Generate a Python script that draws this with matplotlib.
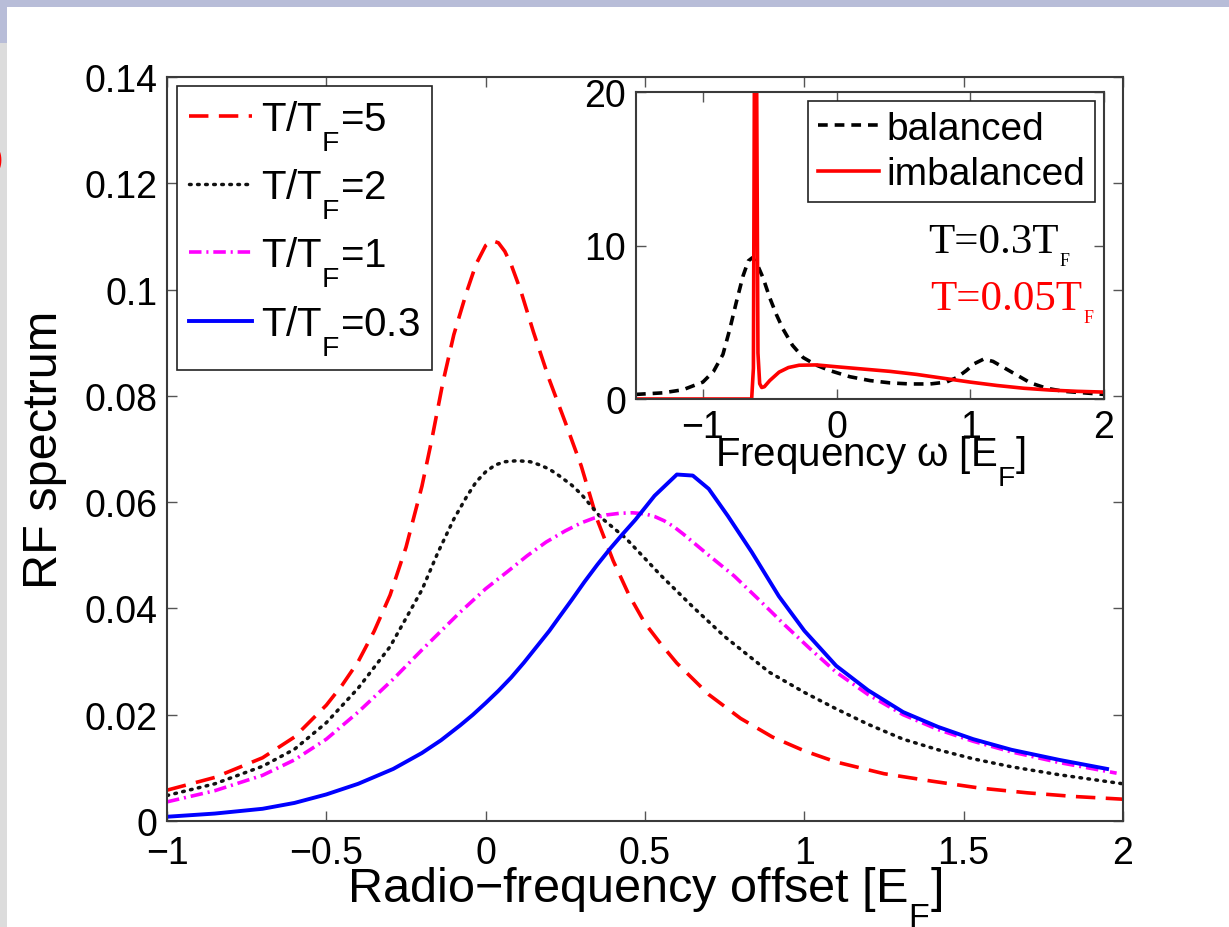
import matplotlib
matplotlib.use('Agg')
import matplotlib.pyplot as plt
import matplotlib._mathtext as mathtext_internals
from matplotlib.patches import Rectangle

# RF spectra for four temperatures (x in E_F)
x_t5 = [-1.0, -0.85, -0.7, -0.6, -0.5, -0.45, -0.4, -0.35, -0.3, -0.25, -0.2, -0.17, -0.134, -0.1,
        -0.06, -0.03, 0.0, 0.02, 0.04, 0.06, 0.08, 0.11, 0.15, 0.2, 0.25, 0.3, 0.35, 0.4, 0.45, 0.5,
        0.55, 0.6, 0.7, 0.8, 0.9, 1.0, 1.1, 1.25, 1.4, 1.55, 1.7, 1.85, 2.0]
y_t5 = [0.0058, 0.0082, 0.0119, 0.0158, 0.0218, 0.0256, 0.0300, 0.0357, 0.0425, 0.0515, 0.0630,
        0.0715, 0.0826, 0.0915, 0.0995, 0.1048, 0.1083, 0.1092, 0.1088, 0.1072, 0.1047, 0.0998,
        0.0920, 0.0830, 0.0750, 0.0668, 0.0567, 0.0490, 0.0425, 0.0372, 0.0333, 0.0297, 0.0238,
        0.0193, 0.0158, 0.0132, 0.0111, 0.0089, 0.0075, 0.0062, 0.0053, 0.0046, 0.0041]

x_t2 = [-1.0, -0.85, -0.7, -0.6, -0.5, -0.4, -0.3, -0.2, -0.15, -0.1, -0.06, -0.03, 0.0, 0.03, 0.06,
        0.1, 0.14, 0.17, 0.2, 0.23, 0.27, 0.3, 0.36, 0.44, 0.55, 0.65, 0.75, 0.89, 1.0, 1.1, 1.2,
        1.31, 1.42, 1.53, 1.65, 1.8, 2.0]
y_t2 = [0.0048, 0.0070, 0.0103, 0.0135, 0.0185, 0.0250, 0.0328, 0.0435, 0.0505, 0.0568, 0.0610,
        0.0638, 0.0657, 0.0670, 0.0676, 0.0678, 0.0676, 0.0670, 0.0662, 0.0650, 0.0632, 0.0615,
        0.0572, 0.0532, 0.0462, 0.0403, 0.0347, 0.0280, 0.0242, 0.0211, 0.0182, 0.0154, 0.0134,
        0.0117, 0.0102, 0.0087, 0.0070]

x_t1 = [-1.0, -0.85, -0.7, -0.6, -0.5, -0.4, -0.29, -0.2, -0.08, 0.0, 0.07, 0.13, 0.19, 0.25, 0.3,
        0.34, 0.38, 0.42, 0.46, 0.5, 0.53, 0.56, 0.59, 0.62, 0.66, 0.7, 0.78, 0.86, 0.94, 1.02, 1.1,
        1.2, 1.31, 1.42, 1.53, 1.65, 1.8, 1.98]
y_t1 = [0.0036, 0.0057, 0.0086, 0.0115, 0.0154, 0.0205, 0.0267, 0.0322, 0.0393, 0.0437, 0.0470,
        0.0499, 0.0525, 0.0546, 0.0561, 0.0570, 0.0576, 0.0579, 0.0580, 0.0578, 0.0573, 0.0565,
        0.0554, 0.0540, 0.0520, 0.0500, 0.0461, 0.0415, 0.0368, 0.0323, 0.0280, 0.0238, 0.0200,
        0.0172, 0.0150, 0.0130, 0.0110, 0.0090]

x_t03 = [-1.0, -0.85, -0.7, -0.6, -0.5, -0.4, -0.29, -0.2, -0.14, -0.08, -0.04, 0.0, 0.04, 0.08,
         0.12, 0.16, 0.2, 0.23, 0.27, 0.31, 0.35, 0.39, 0.43, 0.47, 0.53, 0.6, 0.65, 0.7, 0.76,
         0.835, 0.92, 1.0, 1.1, 1.2, 1.31, 1.42, 1.53, 1.65, 1.8, 1.95]
y_t03 = [0.0008, 0.0014, 0.0023, 0.0034, 0.0050, 0.0070, 0.0098, 0.0128, 0.0152, 0.0180, 0.0200,
         0.0222, 0.0245, 0.0270, 0.0298, 0.0328, 0.0358, 0.0383, 0.0416, 0.0450, 0.0482, 0.0512,
         0.0540, 0.0567, 0.0612, 0.0652, 0.0650, 0.0625, 0.0574, 0.0506, 0.0423, 0.0358, 0.0292,
         0.0246, 0.0205, 0.0177, 0.0154, 0.0134, 0.0115, 0.0098]

# inset: balanced vs imbalanced spectra
x_bal = [-1.5, -1.3, -1.15, -1.0, -0.92, -0.85, -0.8, -0.75, -0.7, -0.66, -0.63, -0.6, -0.55, -0.5,
         -0.45, -0.4, -0.33, -0.25, -0.15, -0.05, 0.1, 0.25, 0.4, 0.55, 0.7, 0.82, 0.9, 0.97, 1.03,
         1.1, 1.17, 1.25, 1.35, 1.45, 1.57, 1.7, 1.85, 2.0]
y_bal = [0.3, 0.4, 0.6, 1.1, 1.8, 2.9, 4.5, 6.3, 8.0, 9.0, 9.2, 8.9, 7.9, 6.6, 5.5, 4.55, 3.5, 2.7,
         2.2, 1.85, 1.45, 1.2, 1.05, 0.98, 0.98, 1.1, 1.4, 1.85, 2.3, 2.6, 2.45, 2.05, 1.55, 1.05,
         0.7, 0.5, 0.4, 0.3]

x_imb = [-1.5, -0.635, -0.622, -0.613, -0.6, -0.588, -0.575, -0.56, -0.54, -0.5, -0.43, -0.36, -0.28,
         -0.15, 0.0, 0.2, 0.4, 0.6, 0.8, 1.0, 1.2, 1.4, 1.6, 1.8, 2.0]
y_imb = [0.0, 0.0, 2.0, 25.0, 25.0, 3.0, 1.0, 0.75, 0.8, 1.2, 1.75, 2.05, 2.2, 2.22, 2.1, 1.95, 1.8,
         1.6, 1.35, 1.1, 0.88, 0.7, 0.58, 0.5, 0.45]

main_xticks = [-1, -0.5, 0, 0.5, 1, 1.5, 2]
main_xticklabels = ['\u22121', '\u22120.5', '0', '0.5', '1', '1.5', '2']
main_yticks = [0, 0.02, 0.04, 0.06, 0.08, 0.1, 0.12, 0.14]
main_yticklabels = ['0', '0.02', '0.04', '0.06', '0.08', '0.1', '0.12', '0.14']
inset_xticks = [-1, 0, 1, 2]
inset_xticklabels = ['\u22121', '0', '1', '2']
inset_yticks = [0, 10, 20]

plt.rcParams['font.family'] = 'Liberation Sans'
plt.rcParams['mathtext.fontset'] = 'custom'
plt.rcParams['mathtext.rm'] = 'Liberation Sans'
plt.rcParams['lines.scale_dashes'] = False
# drop subscripts lower, the way MATLAB places them
mathtext_internals.FontConstantsBase.sub1 = 0.95

fig = plt.figure(figsize=(12.29, 9.28), dpi=100)
fig.patch.set_facecolor('white')

# slide frame around the figure
W, H = 1229.0, 928.0
fig.patches.append(Rectangle((0, 1 - 8 / H), 1, 8 / H, transform=fig.transFigure,
                             facecolor='#b8bdd8', edgecolor='none', zorder=-5))
fig.patches.append(Rectangle((0, 0), 7 / W, 1 - 44 / H, transform=fig.transFigure,
                             facecolor='#dcdcdc', edgecolor='none', zorder=-5))
fig.patches.append(Rectangle((0, 1 - 44 / H), 7 / W, 44 / H, transform=fig.transFigure,
                             facecolor='#b8bdd8', edgecolor='none', zorder=-5))
fig.text(3 / W, 1 - 160 / H, ')', color='red', fontsize=22, ha='right', va='center')

spine_col = '#3a3a3a'


def style_axes(ax, size):
    for s in ax.spines.values():
        s.set_color(spine_col)
        s.set_linewidth(1.5)
    ax.tick_params(direction='in', length=7, width=1, color='#555555', top=True, right=True,
                   labelsize=size, pad=7)


ax = fig.add_axes([167 / W, 1 - 822 / H, 956 / W, 744 / H])
ax.plot(x_t5, y_t5, color='red', lw=2.6, dashes=(14, 7.5), label=r'T/T$_\mathregular{F}$=5')
ax.plot(x_t2, y_t2, color='#111111', lw=2.5, dashes=(1.2, 4.6), dash_capstyle='round',
        label=r'T/T$_\mathregular{F}$=2')
ax.plot(x_t1, y_t1, color='magenta', lw=2.6, dashes=(9, 3.5, 1.5, 3.5), label=r'T/T$_\mathregular{F}$=1')
ax.plot(x_t03, y_t03, color='blue', lw=2.8, label=r'T/T$_\mathregular{F}$=0.3')
ax.set_xlim(-1, 2)
ax.set_ylim(0, 0.14)
ax.set_xticks(main_xticks)
ax.set_xticklabels(main_xticklabels)
ax.set_yticks(main_yticks)
ax.set_yticklabels(main_yticklabels)
style_axes(ax, 27)
ax.tick_params(axis='x', pad=10)
ax.set_xlabel(r'Radio$-$frequency offset [E$_\mathregular{F}$]', fontsize=35)
ax.xaxis.set_label_coords(0.5, -0.058)
ax.set_ylabel('RF spectrum', fontsize=35)
ax.yaxis.set_label_coords(-0.105, 0.5)

leg = ax.legend(loc='upper left', bbox_to_anchor=(10 / 956, 1 - 9 / 744), borderaxespad=0,
                fontsize=29, handlelength=1.55, handletextpad=0.23, labelspacing=0.33,
                borderpad=0.3, fancybox=False, framealpha=1)
leg.get_frame().set_edgecolor('#222222')
leg.get_frame().set_linewidth(1.2)

# inset panel
ins = fig.add_axes([636 / W, 1 - 400 / H, 468 / W, 307 / H])
ins.set_facecolor('white')
ins.plot(x_bal, y_bal, color='black', lw=2.6, dashes=(7, 5), label='balanced')
ins.plot(x_imb, y_imb, color='red', lw=2.6, label='imbalanced')
ins.set_xlim(-1.5, 2)
ins.set_ylim(0, 20)
ins.set_xticks(inset_xticks)
ins.set_xticklabels(inset_xticklabels)
ins.set_yticks(inset_yticks)
style_axes(ins, 27)
ins.set_xlabel(r'Frequency $\mathregular{\omega}$ [E$_\mathregular{F}$]', fontsize=29)
ins.xaxis.set_label_coords(0.5, -0.11)

ileg = ins.legend(loc='upper right', bbox_to_anchor=(1 - 9 / 468, 1 - 9 / 307), borderaxespad=0,
                  fontsize=28, handlelength=1.57, handletextpad=0.2, labelspacing=0.25,
                  borderpad=0.25, fancybox=False, framealpha=1)
ileg.get_frame().set_edgecolor('#222222')
ileg.get_frame().set_linewidth(1.2)

t1 = ins.text(0.684, 9.58, 'T=0.3T', family='Liberation Serif', fontsize=31, color='black',
              va='baseline')
ins.annotate('F', xy=(1, 0), xycoords=t1, xytext=(1, -3), textcoords='offset points',
             family='Liberation Serif', fontsize=13, color='black', va='baseline')
t2 = ins.text(0.70, 5.86, 'T=0.05T', family='Liberation Serif', fontsize=31, color='red',
              va='baseline')
ins.annotate('F', xy=(1, 0), xycoords=t2, xytext=(1, -3), textcoords='offset points',
             family='Liberation Serif', fontsize=13, color='red', va='baseline')

fig.savefig('out.png', dpi=100, facecolor=fig.get_facecolor())
